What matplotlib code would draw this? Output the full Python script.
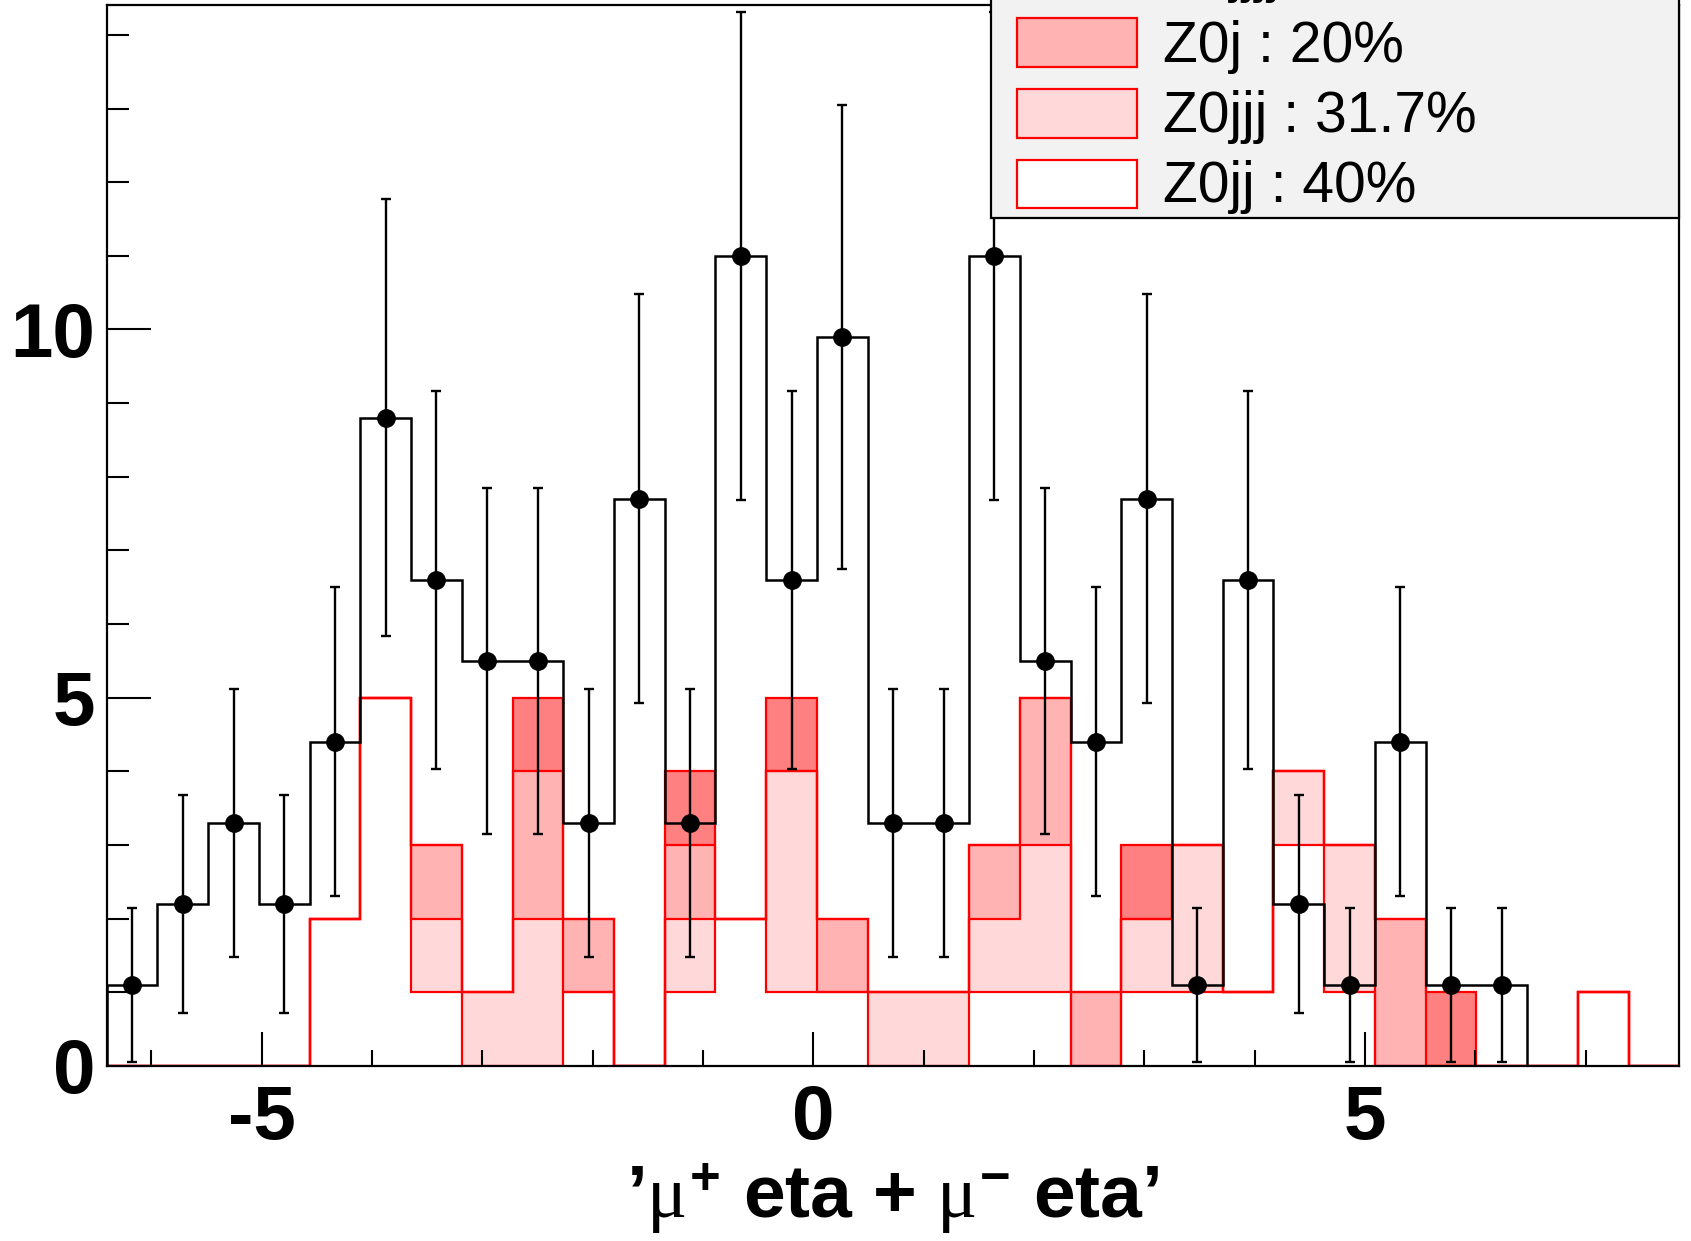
import numpy as np
import matplotlib
matplotlib.use("Agg")
import matplotlib.pyplot as plt
from matplotlib.patches import Rectangle
from matplotlib.ticker import MultipleLocator, FixedLocator

plt.rcParams['font.family'] = 'Liberation Sans'
plt.rcParams['axes.unicode_minus'] = False
plt.rcParams['mathtext.fontset'] = 'custom'
plt.rcParams['mathtext.it'] = 'Liberation Serif'
plt.rcParams['mathtext.rm'] = 'Liberation Sans:bold'
plt.rcParams['mathtext.bf'] = 'Liberation Sans:bold'

# binning (31 equal bins)
x_lo, x_hi, n_bins = -6.405, 7.85, 31
y_hi = 14.4

# observed data (black points), error = sqrt(value)
data = [1.1, 2.2, 3.3, 2.2, 4.4, 8.8, 6.6, 5.5, 5.5, 3.3, 7.7, 3.3, 11.0, 6.6, 9.9, 3.3,
        3.3, 11.0, 5.5, 4.4, 7.7, 1.1, 6.6, 2.2, 1.1, 4.4, 1.1, 1.1, 0.0, 0.0, 0.0]

# stacked samples, listed bottom to top
z0jj   = [0, 0, 0, 0, 2, 5, 1, 0, 0, 1, 0, 1, 2, 1, 1, 0, 0, 1, 1, 0, 1, 1, 1, 3, 1, 0, 0, 0, 0, 1, 0]
z0jjj  = [0, 0, 0, 0, 0, 0, 1, 1, 2, 0, 0, 1, 0, 3, 0, 1, 1, 1, 2, 0, 1, 2, 0, 1, 2, 0, 0, 0, 0, 0, 0]
z0j    = [0, 0, 0, 0, 0, 0, 1, 0, 2, 1, 0, 1, 0, 0, 1, 0, 0, 1, 2, 1, 0, 0, 0, 0, 0, 2, 0, 0, 0, 0, 0]
z0jjjj = [0, 0, 0, 0, 0, 0, 0, 0, 1, 0, 0, 1, 0, 1, 0, 0, 0, 0, 0, 0, 1, 0, 0, 0, 0, 0, 1, 0, 0, 0, 0]

stack = [z0jj, z0jjj, z0j, z0jjjj]
fills = ['#ffffff', '#ffd9d9', '#ffb3b3', '#ff8080']
# legend entries, top to bottom (first one is cut off by the canvas)
leg_labels = ['Z0jjjj : 8.3%', 'Z0j : 20%', 'Z0jjj : 31.7%', 'Z0jj : 40%']
leg_fills = ['#ff8080', '#ffb3b3', '#ffd9d9', '#ffffff']

W, H = 1691, 1241
fig = plt.figure(figsize=(W / 100, H / 100), dpi=100)
ax_l, ax_r, ax_t, ax_b = 106.7, 1679.3, 5.4, 1066.0
ax = fig.add_axes([ax_l / W, 1 - ax_b / H, (ax_r - ax_l) / W, (ax_b - ax_t) / H])
ax.set_axisbelow(False)

edges = np.linspace(x_lo, x_hi, n_bins + 1)
centers = 0.5 * (edges[:-1] + edges[1:])

cum = np.cumsum(np.array(stack, dtype=float), axis=0)
for level, col in reversed(list(zip(cum, fills))):
    ax.stairs(level, edges, fill=True, color=col, zorder=2)
    ax.stairs(level, edges, baseline=0, color='red', lw=1.6, zorder=2.1)

data = np.array(data)
ax.stairs(data, edges, baseline=0, color='black', lw=1.8, zorder=3)
m = data > 0
ax.errorbar(centers[m], data[m], yerr=np.sqrt(data[m]), fmt='o', color='black',
            ms=12.5, elinewidth=1.7, capsize=3.6, capthick=1.7, zorder=4)

ax.set_xlim(x_lo, x_hi)
ax.set_ylim(0, y_hi)
ax.xaxis.set_major_locator(FixedLocator([-5, 0, 5]))
ax.xaxis.set_minor_locator(MultipleLocator(1))
ax.yaxis.set_major_locator(FixedLocator([0, 5, 10]))
ax.yaxis.set_minor_locator(MultipleLocator(1))
ax.tick_params(axis='both', which='both', direction='in', width=1.5, color='black')
ax.tick_params(axis='x', which='major', length=24.3, pad=13)
ax.tick_params(axis='x', which='minor', length=11.5)
ax.tick_params(axis='y', which='major', length=31.7, pad=8.4)
ax.tick_params(axis='y', which='minor', length=15.8)
for lab in ax.get_xticklabels() + ax.get_yticklabels():
    lab.set_fontsize(55)
    lab.set_fontweight('bold')
for sp in ax.spines.values():
    sp.set_linewidth(1.6)
    sp.set_zorder(5)

ax.set_xlabel("\u2019$\\mu^{+}$ eta + $\\mu^{-}$ eta\u2019", fontsize=54, fontweight='bold')
ax.xaxis.label.set_va('baseline')
ax.xaxis.set_label_coords(0.5, (ax_b - 1218) / (ax_b - ax_t))

# legend drawn in pixel coordinates on an overlay
lax = fig.add_axes([0, 0, 1, 1], zorder=10)
lax.set_xlim(0, W)
lax.set_ylim(H, 0)
lax.axis('off')
lax.add_patch(Rectangle((991, -150), ax_r - 991, 218 + 150, facecolor='#f2f2f2',
                        edgecolor='black', lw=1.6, clip_on=False))
for i, (lab, col) in enumerate(zip(leg_labels, leg_fills)):
    top = 18.3 + 70.6 * (i - 1)
    lax.add_patch(Rectangle((1017, top), 120, 48.6, facecolor=col, edgecolor='red',
                            lw=1.6, clip_on=False))
    lax.text(1163, 61.7 + 70.3 * (i - 1), lab, fontsize=41, va='baseline', ha='left',
             clip_on=False)

fig.savefig('out.png', dpi=100)
